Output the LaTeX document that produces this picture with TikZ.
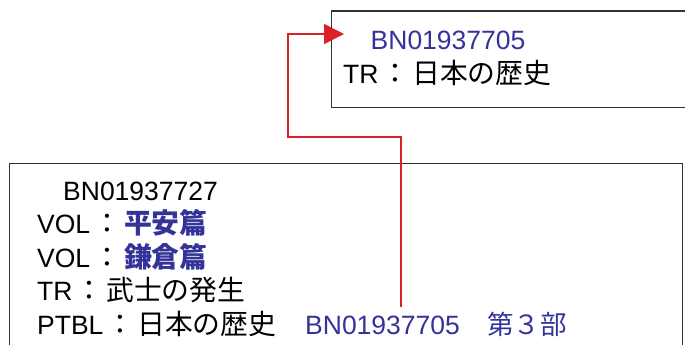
\documentclass[tikz,border=0pt]{standalone}
\usepackage{fontspec}
\setmainfont{Liberation Sans}
\newfontfamily\jp{Noto Sans CJK JP}
\newfontfamily\jpbig[Scale=1.05]{Noto Sans CJK JP}
\usetikzlibrary{calc,arrows.meta}
\definecolor{linkblue}{RGB}{51,51,153}
\definecolor{linkred}{RGB}{221,32,40}
\definecolor{frame}{RGB}{50,50,50}
\newcommand{\jcolon}{\kern3pt{\jpbig：}\kern3pt}
\tikzset{
  recbox/.style={draw=frame, line width=1.1pt, inner sep=0pt, anchor=north west},
  txt/.style={anchor=base west, inner sep=0pt, font=\fontsize{26.5}{30}\selectfont, text=black},
  bluetxt/.style={txt, text=linkblue},
  link/.style={draw=linkred, line width=1.6pt, -{Triangle[length=20pt,width=20pt]}}
}
\begin{document}
\begin{tikzpicture}[x=1pt,y=-1pt]
\useasboundingbox (0,0) rectangle (685,345);
\clip (0,0) rectangle (685,345);
% boxes
\node[recbox, minimum width=380pt, minimum height=96.5pt] (topbox) at (331,10.5) {};
\node[recbox, minimum width=673pt, minimum height=220pt] (lowbox) at (8.5,162.5) {};
% top box text
\node[bluetxt] (topbn) at (370.5,50) {BN01937705};
\node[txt] (toptr) at (343,83) {TR\jcolon{\jpbig 日本の歴史}};
% lower box text
\node[txt] (lowbn) at (63,200) {BN01937727};
\node[txt] (vol1) at (37,233.5) {VOL\jcolon{\jpbig\color{linkblue}\bfseries 平安篇}};
\node[txt] (vol2) at (37,267) {VOL\jcolon{\jpbig\color{linkblue}\bfseries 鎌倉篇}};
\node[txt] (tr) at (37,300.5) {TR\jcolon{\jpbig 武士の発生}};
\node[txt] (ptbl) at (37,334) {PTBL\jcolon{\jpbig 日本の歴史}};
\node[bluetxt] (ptblbn) at (305,334) {BN01937705};
\node[bluetxt] (part) at (487,334) {\jp 第３部};
% connector
\coordinate (src) at (401,307);
\coordinate (bend) at (288,137);
\coordinate (tip) at (344,34);
\draw[link] (src) |- (bend) |- (tip);
\end{tikzpicture}
\end{document}
